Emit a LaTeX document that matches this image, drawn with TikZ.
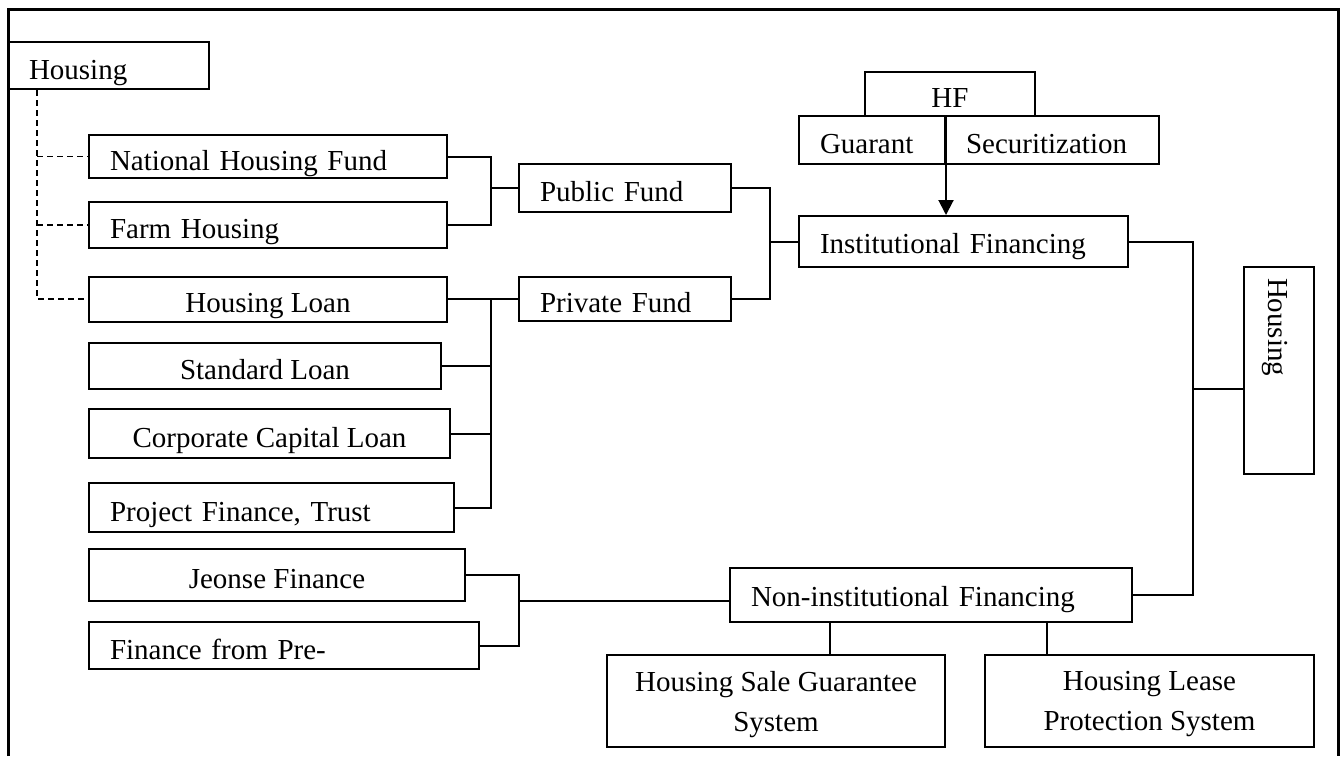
\documentclass[tikz,border=0pt]{standalone}
\usepackage{fontspec}
\setmainfont{Liberation Serif}
\usetikzlibrary{arrows.meta}

\tikzset{
  cell/.style={draw, line width=2pt, inner sep=0pt},
  box/.style={cell, text height=27pt, text depth=0pt},
  lbox/.style={box, align=left, inner xsep=21pt},
  link/.style={line width=2pt},
  dlink/.style={line width=1.6pt, dash pattern=on 6pt off 4pt},
}

\begin{document}
\begin{tikzpicture}[x=1pt, y=-1pt, font=\fontsize{29}{40}\selectfont]
    \useasboundingbox (0,0) rectangle (1343,756);
    \draw [line width=3pt] (8,756) -- (8,9) -- (1338,9) -- (1338,756);
    \node[lbox, text width=159pt, minimum height=47pt] (hous) at (108.5,65.5) {Housing};
    \node[lbox, text width=316pt, minimum height=43pt] (nhf) at (268,156.5) {National Housing Fund};
    \node[lbox, text width=316pt, minimum height=46pt] (farm) at (268,225) {Farm Housing};
    \node[box, minimum width=358pt, minimum height=45pt] (hloan) at (268,299) {Housing Loan};
    \node[box, minimum width=352pt, minimum height=46pt] (std) at (265,366) {Standard Loan};
    \node[box, minimum width=361pt, minimum height=49pt] (corp) at (269.5,433.5) {Corporate Capital Loan};
    \node[lbox, text width=323pt, minimum height=49pt] (proj) at (271.5,507.5) {Project Finance, Trust};
    \node[box, minimum width=376pt, minimum height=52pt] (jeonse) at (277,575) {Jeonse Finance};
    \node[lbox, text width=348pt, minimum height=47pt] (presale) at (284,645.5) {Finance from Pre-};
    \node[lbox, text width=170pt, minimum height=48pt] (pub) at (625,188) {Public Fund};
    \node[lbox, text width=170pt, minimum height=44pt] (priv) at (625,299) {Private Fund};
    \node[lbox, text width=287pt, minimum height=51pt, text height=24pt] (inst) at (963.5,241.5) {Institutional Financing};
    \node[box, minimum width=170pt, minimum height=44pt] (hf) at (950,94) {HF};
    \node[lbox, text width=104pt, minimum height=48pt] (guar) at (872,140) {Guarant};
    \node[lbox, text width=172pt, minimum height=48pt] (secu) at (1052,140) {Securitization};
    \node[lbox, rotate=-90, inner xsep=11pt, text width=185pt, minimum height=70pt, text height=22pt] (vhous) at (1279,370.5) {Housing};
    \node[lbox, text width=360pt, minimum height=54pt, text height=22pt] (noninst) at (931,595) {Non-institutional Financing};
    \node[cell, align=center, text depth=0pt, minimum width=338pt, minimum height=92pt] (sale) at (776,701) {Housing Sale Guarantee\\System};
    \node[cell, align=center, text depth=0pt, minimum width=329pt, minimum height=92pt] (lease) at (1149.5,701) {Housing Lease\\Protection System};
    \coordinate (dtop) at ([xshift=30pt]hous.south west);
    \coordinate (jpub) at (491,188);
    \coordinate (jpriv) at (491,299);
    \coordinate (jinst) at (770,241.5);
    \coordinate (jout) at (1193,389);
    \coordinate (jnon) at (519,601);
    \coordinate (dsale) at ([xshift=54pt]sale.north);
    \coordinate (dlease) at ([xshift=-102.5pt]lease.north);
    \draw [dlink] (dtop) |- (hloan.west);
    \draw [dlink] (dtop |- nhf.west) -- (nhf.west);
    \draw [dlink] (dtop |- farm.west) -- (farm.west);
    \draw [link] (nhf.east) -| (jpub) -- (pub.west);
    \draw [link] (farm.east) -| (jpub);
    \draw [link] (hloan.east) -- (priv.west);
    \draw [link] (std.east) -| (jpriv);
    \draw [link] (corp.east) -| (jpriv);
    \draw [link] (proj.east) -| (jpriv);
    \draw [link] (pub.east) -| (jinst) -- (inst.west);
    \draw [link] (priv.east) -| (jinst);
    \draw [link, -{Triangle[length=15pt, width=15pt]}] (guar.north east) -- (inst.north -| guar.east);
    \draw [link] (inst.east) -| (jout) -- (jout -| vhous.south);
    \draw [link] (noninst.east) -| (jout);
    \draw [link] (jeonse.east) -| (jnon) -- (jnon -| noninst.west);
    \draw [link] (presale.east) -| (jnon);
    \draw [link] (dsale |- noninst.south) -- (dsale);
    \draw [link] (dlease |- noninst.south) -- (dlease);
  \end{tikzpicture}
\end{document}
